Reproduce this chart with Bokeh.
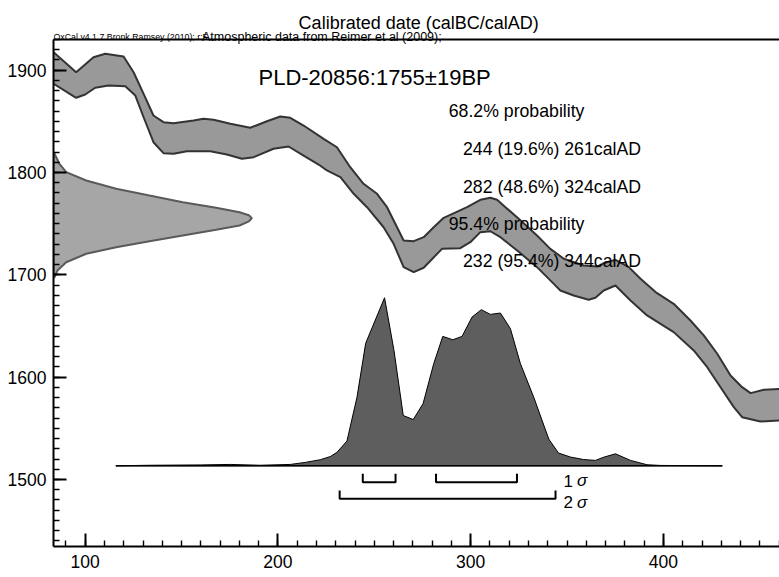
from bokeh.plotting import figure
from bokeh.models import Range1d, SingleIntervalTicker, Label, Span
from bokeh.embed import file_html
from bokeh.resources import INLINE

# ---- data ----
# calibration curve band (calAD, BP)
curve_upper_x = [83.0, 95.3, 104.3, 110.4, 119.9, 125.1, 130.3, 135.4, 140.6, 145.8, 156.2, 161.4, 166.6,
                 175.3, 185.6, 194.3, 201.2, 206.4, 213.3, 223.7, 230.6, 237.5, 244.4, 251.4, 256.6, 265.2,
                 270.4, 275.6, 280.8, 286.0, 298.1, 305.0, 310.2, 313.7, 318.0, 324.9, 334.4, 341.3, 348.3,
                 358.6, 365.6, 369.0, 375.1, 382.0, 388.1, 395.9, 405.3, 414.0, 420.9, 427.9, 434.8, 440.8,
                 445.2, 452.1, 462.0]
curve_upper_bp = [1918.5, 1898.0, 1912.7, 1916.0, 1913.4, 1898.0, 1876.9, 1855.7, 1849.2, 1848.2, 1850.8,
                  1852.5, 1851.5, 1847.6, 1843.7, 1850.1, 1854.7, 1853.5, 1845.9, 1832.9, 1824.7, 1805.2,
                  1789.0, 1779.2, 1766.1, 1733.5, 1732.9, 1736.8, 1746.5, 1755.7, 1766.1, 1773.3, 1775.3,
                  1773.3, 1766.1, 1754.8, 1738.4, 1725.4, 1715.7, 1709.1, 1708.1, 1711.4, 1714.7, 1707.5,
                  1696.1, 1683.1, 1671.7, 1655.4, 1640.8, 1622.9, 1601.6, 1590.2, 1584.4, 1587.6, 1588.6]
curve_lower_x = [83.0, 95.3, 100.0, 105.2, 112.1, 120.8, 126.0, 130.3, 135.4, 140.6, 145.8, 152.8, 164.9,
                 173.5, 181.3, 187.4, 197.7, 205.5, 213.3, 221.1, 225.4, 232.4, 239.3, 246.2, 254.8, 260.0,
                 265.2, 270.4, 275.6, 285.1, 294.6, 299.8, 305.0, 310.2, 315.4, 324.1, 334.4, 343.1, 346.5,
                 353.4, 361.2, 364.7, 369.0, 375.1, 382.9, 391.5, 405.3, 415.7, 422.7, 429.6, 436.5, 440.8,
                 450.3, 462.0]
curve_lower_bp = [1887.5, 1873.0, 1876.2, 1882.8, 1885.0, 1884.3, 1875.2, 1854.0, 1829.6, 1818.9, 1818.3,
                  1820.8, 1820.8, 1817.6, 1813.4, 1815.0, 1823.2, 1825.4, 1816.6, 1807.8, 1802.0, 1795.4,
                  1779.2, 1766.1, 1746.5, 1730.3, 1707.5, 1702.6, 1706.9, 1725.4, 1726.0, 1731.9, 1741.7,
                  1742.6, 1736.8, 1723.8, 1707.5, 1691.2, 1684.7, 1679.8, 1675.6, 1677.6, 1684.7, 1689.6,
                  1674.9, 1660.3, 1644.0, 1626.1, 1609.7, 1590.2, 1570.7, 1560.9, 1556.7, 1557.7]

# radiocarbon determination (BP, relative probability)
gauss_bp = [1818.3, 1808.5, 1800.3, 1792.2, 1784.1, 1777.5, 1771.0, 1765.5, 1761.2, 1758.3, 1755.3,
            1752.3, 1748.2, 1744.0, 1738.4, 1732.9, 1727.0, 1720.6, 1712.3, 1704.2, 1697.6]
gauss_prob = [0.005, 0.03, 0.064, 0.165, 0.316, 0.484, 0.652, 0.82, 0.938, 0.985, 1.0,
              0.985, 0.938, 0.82, 0.652, 0.484, 0.316, 0.165, 0.064, 0.02, 0.005]

# calibrated distribution (calAD, relative probability)
hist_x = [115.9, 133.7, 159.7, 175.3, 190.8, 206.4, 214.2, 222.0, 227.2, 230.6, 235.8, 241.0, 245.5,
          255.3, 260.2, 265.0, 270.2, 275.3, 280.8, 285.5, 290.7, 295.5, 300.7, 305.5, 310.2, 315.4,
          320.6, 325.8, 332.7, 340.5, 345.5, 351.7, 358.6, 364.7, 369.0, 375.1, 382.9, 391.5, 398.4, 430.5]
hist_prob = [0, 0.003, 0.005, 0.008, 0.003, 0.008, 0.02, 0.036, 0.055, 0.08, 0.147, 0.408, 0.729,
             1.0, 0.686, 0.299, 0.275, 0.37, 0.607, 0.77, 0.75, 0.77, 0.885, 0.929, 0.901, 0.909,
             0.816, 0.607, 0.408, 0.159, 0.076, 0.052, 0.037, 0.032, 0.051, 0.071, 0.032, 0.006, 0.002, 0]

# ranges
one_sigma = [(244, 261), (282, 324)]
two_sigma = [(232, 344)]

title_text = "Calibrated date (calBC/calAD)"
credit_texts = ["OxCal v4.1.7 Bronk Ramsey (2010); r:5", "Atmospheric data from Reimer et al (2009);"]
sample_label = "PLD-20856:1755\u00b119BP"
prob_lines = ["68.2% probability", "244 (19.6%) 261calAD", "282 (48.6%) 324calAD",
              "95.4% probability", "232 (95.4%) 344calAD"]
prob_indent = [False, True, True, False, True]

X0, X1 = 83.55, 460.2
Y0, Y1 = 1434.5, 1930.0      # plotted box
Y_TOP = 1968.1               # canvas top (room for the header texts)
FONT = "Liberation Sans"

p = figure(width=779, height=577, x_range=Range1d(X0, X1), y_range=Range1d(Y0, Y_TOP),
           output_backend="svg", toolbar_location=None,
           min_border_left=53, min_border_right=0, min_border_top=0, min_border_bottom=31)
p.grid.visible = False
p.outline_line_color = None
p.background_fill_color = "white"

for ax in (p.xaxis[0], p.yaxis[0]):
    ax.ticker = SingleIntervalTicker(interval=100, num_minor_ticks=10)
    ax.axis_line_width = 2
    ax.axis_line_color = "black"
    ax.major_tick_in = 13
    ax.major_tick_out = 0
    ax.minor_tick_in = 6
    ax.minor_tick_out = 0
    ax.major_tick_line_width = 2
    ax.minor_tick_line_width = 1.4
    ax.major_tick_line_color = "black"
    ax.minor_tick_line_color = "black"
    ax.major_label_text_font = FONT
    ax.major_label_text_font_size = "17.5px"
    ax.major_label_text_color = "black"
p.yaxis[0].major_label_standoff = 7
p.yaxis[0].bounds = (Y0, Y1)
p.xaxis[0].major_label_standoff = 8

p.add_layout(Span(location=Y1, dimension="width", line_color="black", line_width=2))

# calibration curve band
band_x = curve_upper_x + curve_lower_x[::-1]
band_y = curve_upper_bp + curve_lower_bp[::-1]
p.patch(band_x, band_y, fill_color="#999999", line_color="#333333", line_width=2)

# radiocarbon gaussian on the y axis
G_SCALE = 102.9
gx = [X0] + [X0 + g * G_SCALE for g in gauss_prob] + [X0]
gy = [gauss_bp[0]] + gauss_bp + [gauss_bp[-1]]
p.patch(gx, gy, fill_color="#a6a6a6", line_color="#5a5a5a", line_width=2)

# calibrated distribution
BASE = 1513.4
H_SCALE = 164.2
hy = [BASE + h * H_SCALE for h in hist_prob]
p.patch(hist_x, hy, fill_color="#5e5e5e", line_color="black", line_width=1)
p.line([hist_x[0], hist_x[-1]], [BASE, BASE], line_color="black", line_width=1.5)

# sigma range brackets
def brackets(ranges, level, h):
    xs = [[a, a, b, b] for a, b in ranges]
    ys = [[level + h, level, level, level + h] for _ in ranges]
    p.multi_line(xs, ys, line_color="black", line_width=2)

brackets(one_sigma, 1497.4, 8.2)
brackets(two_sigma, 1481.1, 8.2)

def lab(x, y, text, size, style="normal", align="left"):
    p.add_layout(Label(x=x, y=y, text=text, text_font=FONT, text_font_size=size,
                       text_font_style=style, text_align=align, text_baseline="alphabetic",
                       text_color="black"))

lab(348.2, 1499.0, "1", "17px")
lab(355.2, 1499.0, "\u03c3", "17px", "italic")
lab(348.2, 1477.8, "2", "17px")
lab(355.2, 1477.8, "\u03c3", "17px", "italic")

lab(273.0, 1945.9, title_text, "18px", align="center")
lab(X0, 1932.9, credit_texts[0], "8.8px")
lab(160.6, 1932.9, credit_texts[1], "12.5px")
lab(189.9, 1893.1, sample_label, "22px")

line_y = [1860.1, 1823.2, 1786.3, 1749.9, 1713.3]
for t, ind, yy in zip(prob_lines, prob_indent, line_y):
    lab(296.0 if ind else 288.6, yy, t, "17.7px")

open("out.html", "w").write(file_html(p, INLINE))
